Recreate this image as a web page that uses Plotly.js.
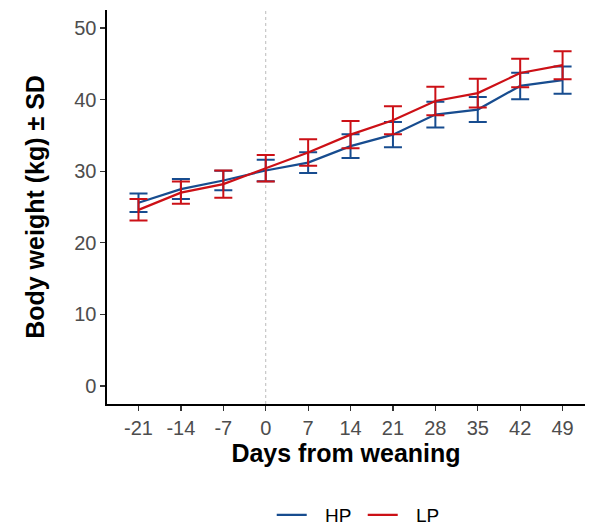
<!DOCTYPE html>
<html>
<head>
<meta charset="utf-8">
<script src="https://cdn.plot.ly/plotly-3.0.1.min.js"></script>
<style>html,body{margin:0;padding:0;background:#fff;}#chart{width:591px;height:526px;}</style>
</head>
<body>
<div id="chart"></div>
<script>
var days = [-21, -14, -7, 0, 7, 14, 21, 28, 35, 42, 49];
var hpMean = [25.6, 27.5, 28.7, 30.1, 31.2, 33.5, 35.1, 37.9, 38.6, 41.9, 42.7];
var hpSD   = [1.3, 1.4, 1.35, 1.5, 1.45, 1.65, 1.75, 1.8, 1.75, 1.85, 1.9];
var lpMean = [24.6, 27.0, 28.2, 30.4, 32.6, 35.1, 37.1, 39.8, 40.9, 43.7, 44.8];
var lpSD   = [1.5, 1.55, 1.9, 1.85, 1.85, 1.9, 1.95, 2.0, 2.0, 2.0, 1.95];
var xTicks = [-21, -14, -7, 0, 7, 14, 21, 28, 35, 42, 49];
var yTicks = [0, 10, 20, 30, 40, 50];
var groups = ['HP', 'LP'];

var blue = '#174C8F';
var red = '#CC1016';

function series(name, mean, sd, color) {
  return {
    type: 'scatter', mode: 'lines', name: '\u2002\u2009' + name,
    x: days, y: mean,
    line: {color: color, width: 2.2},
    error_y: {type: 'data', array: sd, visible: true, color: color, thickness: 2, width: 9}
  };
}

var data = [series(groups[0], hpMean, hpSD, blue), series(groups[1], lpMean, lpSD, red)];

var layout = {
  width: 591, height: 526,
  margin: {l: 107, r: 6, t: 10, b: 122, autoexpand: false},
  paper_bgcolor: '#fff', plot_bgcolor: '#fff',
  font: {family: 'Liberation Sans, Arial, sans-serif', color: '#4D4D4D'},
  showlegend: true,
  legend: {orientation: 'h', x: 0.535, xanchor: 'center', yref: 'container', y: 0.021, yanchor: 'middle',
           entrywidth: 46, entrywidthmode: 'pixels',
           font: {size: 19, color: '#000'}, traceorder: 'normal'},
  xaxis: {
    range: [-26.2, 52.7], tickvals: xTicks, ticktext: xTicks.map(String),
    showgrid: false, zeroline: false, automargin: false,
    showline: true, linecolor: '#000', linewidth: 1.6,
    ticks: 'outside', ticklen: 5, tickcolor: '#333', tickwidth: 1.2,
    tickfont: {size: 20, color: '#4D4D4D'},
    title: {text: '<b>Days from weaning</b>', font: {size: 25, color: '#000'}, standoff: 4}
  },
  yaxis: {
    range: [-2.5, 52.5], tickvals: yTicks, ticktext: yTicks.map(String),
    showgrid: false, zeroline: false, automargin: false,
    showline: true, linecolor: '#000', linewidth: 1.6,
    ticks: 'outside', ticklen: 5, tickcolor: '#333', tickwidth: 1.2,
    tickfont: {size: 20, color: '#4D4D4D'},
    title: {text: '<b>Body weight (kg) ± SD</b>', font: {size: 25, color: '#000'}, standoff: 22}
  },
  shapes: [{type: 'line', xref: 'x', yref: 'paper', x0: 0, x1: 0, y0: 0, y1: 1,
            line: {color: '#BBBBBB', width: 1, dash: 'dot'}, layer: 'below'}]
};

Plotly.newPlot('chart', data, layout, {displayModeBar: false, staticPlot: true});
</script>
</body>
</html>
